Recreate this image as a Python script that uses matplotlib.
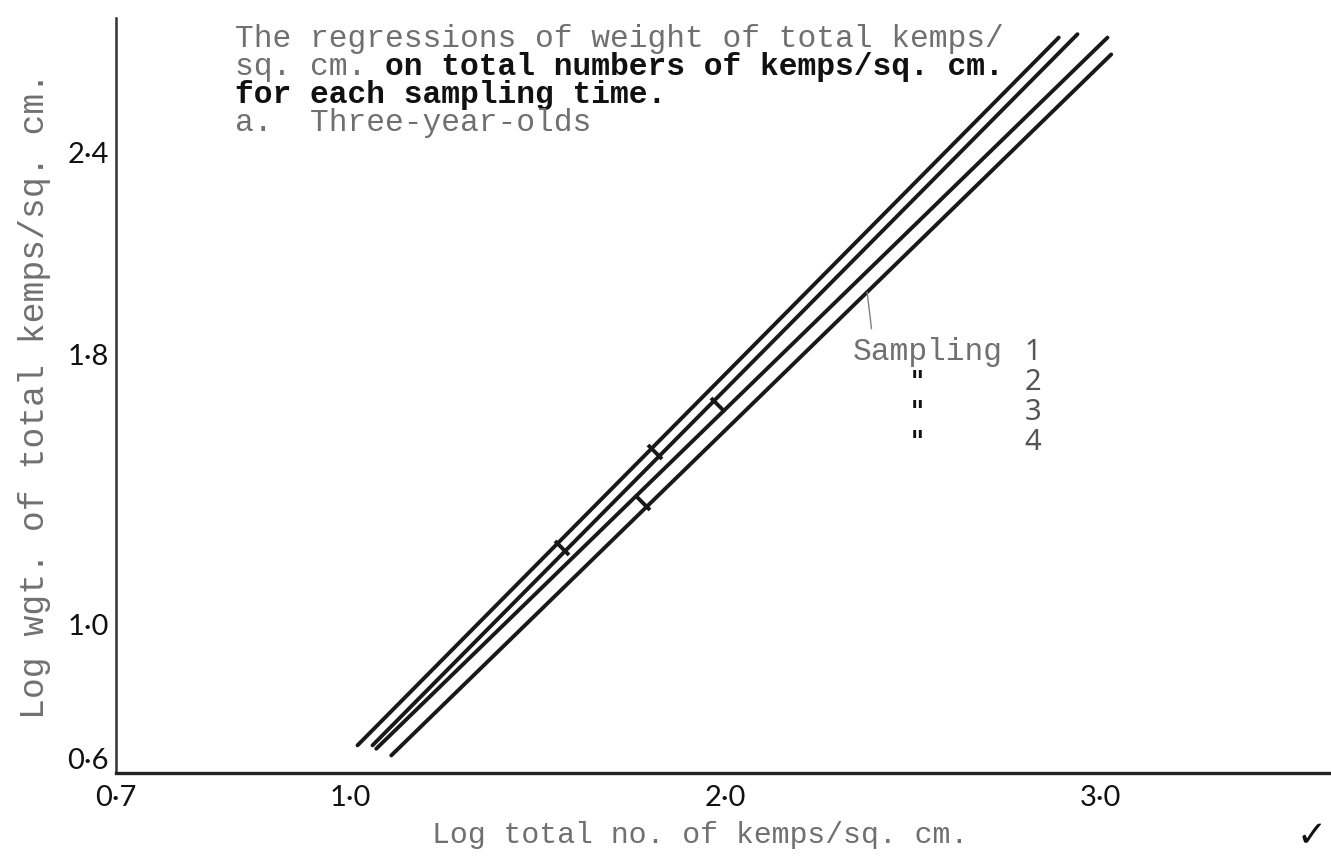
import numpy as np
import matplotlib.pyplot as plt
from matplotlib.markers import MarkerStyle
from matplotlib.transforms import Affine2D

# regression lines, end points in (log total no., log wgt.) per sampling
samp1_x = [1.11, 3.03]
samp1_y = [0.61, 2.69]
samp2_x = [1.07, 3.02]
samp2_y = [0.63, 2.74]
samp3_x = [1.06, 2.94]
samp3_y = [0.64, 2.75]
samp4_x = [1.02, 2.89]
samp4_y = [0.64, 2.74]

# means marked across the lines
mean_x = [1.565, 1.781, 1.813, 1.981]
mean_y = [1.226, 1.359, 1.510, 1.650]

xticks = [0.7, 1.0, 2.0, 3.0]
xticklabels = ['0·7', '1·0', '2·0', '3·0']
yticks = [0.6, 1.0, 1.8, 2.4]
yticklabels = ['0·6', '1·0', '1·8', '2·4']

title_lines = ['The regressions of weight of total kemps/', 'sq. cm. ',
               'for each sampling time.', 'a.  Three-year-olds']
title_bold = 'on total numbers of kemps/sq. cm.'
sampling_nums = ['1', '2', '3', '4']

W, H = 1331, 861
mono = 'Liberation Mono'
grey = '#707070'
ink = '#191919'

fig = plt.figure(figsize=(W / 100, H / 100), dpi=100)
ax = fig.add_axes([116 / W, (H - 773) / H, (W - 116) / W, (773 - 18) / H])


# x axis is squeezed between 0.7 and 1.0 (broken start)
def fwd(x):
    x = np.asarray(x, float)
    return np.where(x < 1.0, 350 - (1.0 - x) * 780, 350 + (x - 1.0) * 375)


def inv(p):
    p = np.asarray(p, float)
    return np.where(p < 350, 1.0 - (350 - p) / 780, 1.0 + (p - 350) / 375)


ax.set_xscale('function', functions=(fwd, inv))
ax.set_xlim(0.7, 3.616)
ax.set_ylim(0.558, 2.798)

for xs, ys in [(samp1_x, samp1_y), (samp2_x, samp2_y),
               (samp3_x, samp3_y), (samp4_x, samp4_y)]:
    ax.plot(xs, ys, color=ink, lw=2.8, solid_capstyle='round')

bar = MarkerStyle('|', transform=Affine2D().rotate_deg(45))
ax.plot(mean_x, mean_y, ls='none', marker=bar, ms=15, mew=2.8, color=ink)

for side in ['top', 'right']:
    ax.spines[side].set_visible(False)
ax.spines['left'].set_linewidth(1.8)
ax.spines['left'].set_color('#333333')
ax.spines['bottom'].set_linewidth(2.4)
ax.spines['bottom'].set_color('#222222')

ax.set_xticks(xticks)
ax.set_xticklabels(xticklabels)
ax.set_yticks(yticks)
ax.set_yticklabels(yticklabels)
ax.minorticks_off()
ax.tick_params(axis='both', length=0, labelsize=21, labelcolor='#111111')
ax.tick_params(axis='x', pad=9)
ax.tick_params(axis='y', pad=5)
for lab in ax.get_xticklabels() + ax.get_yticklabels():
    lab.set_family('Lato')

# typed title block
tx = 235
fs = 22.5
rows = [39, 67, 95, 123]
fig.text(tx / W, 1 - rows[0] / H, title_lines[0], family=mono, fontsize=fs,
         color=grey, va='center')
fig.text(tx / W, 1 - rows[1] / H, title_lines[1], family=mono, fontsize=fs,
         color=grey, va='center')
fig.text((tx + 8 * 0.6 * fs * 100 / 72) / W, 1 - rows[1] / H, title_bold,
         family=mono, fontsize=fs, weight='bold', color='#111111', va='center')
fig.text(tx / W, 1 - rows[2] / H, title_lines[2], family=mono, fontsize=fs,
         weight='bold', color='#111111', va='center')
fig.text(tx / W, 1 - rows[3] / H, title_lines[3], family=mono, fontsize=fs,
         color=grey, va='center')

# key for the samplings
ax.annotate('Sampling', xy=(2.379, 1.985), xycoords='data',
            xytext=(853 / W, 1 - 352 / H), textcoords='figure fraction',
            ha='left', va='center', family=mono, fontsize=fs, color=grey,
            arrowprops=dict(arrowstyle='-', color='#808080', lw=1,
                            relpos=(0.13, 1.0), shrinkA=4, shrinkB=0))
for i, n in enumerate(sampling_nums):
    fig.text(1033 / W, 1 - (352 + 30 * i) / H, n, family='Noto Sans',
             fontsize=21, color='#555555', ha='center', va='center')
    if i > 0:
        fig.text(917 / W, 1 - (382 + 30 * (i - 1)) / H, '"', family=mono,
                 fontsize=18, weight='bold', color='#111111', ha='center',
                 va='center')

fig.text(700 / W, 1 - 835 / H, 'Log total no. of kemps/sq. cm.', family=mono,
         fontsize=21.5, color=grey, ha='center', va='center')
fig.text(35 / W, 1 - 395 / H, 'Log wgt. of total kemps/sq. cm.', family=mono,
         fontsize=25, color=grey, ha='center', va='center', rotation=90)

fig.text(1312 / W, 1 - 836 / H, '✓', family='DejaVu Sans', fontsize=26,
         color='#111111', ha='center', va='center')

fig.savefig('out.png', dpi=100)
